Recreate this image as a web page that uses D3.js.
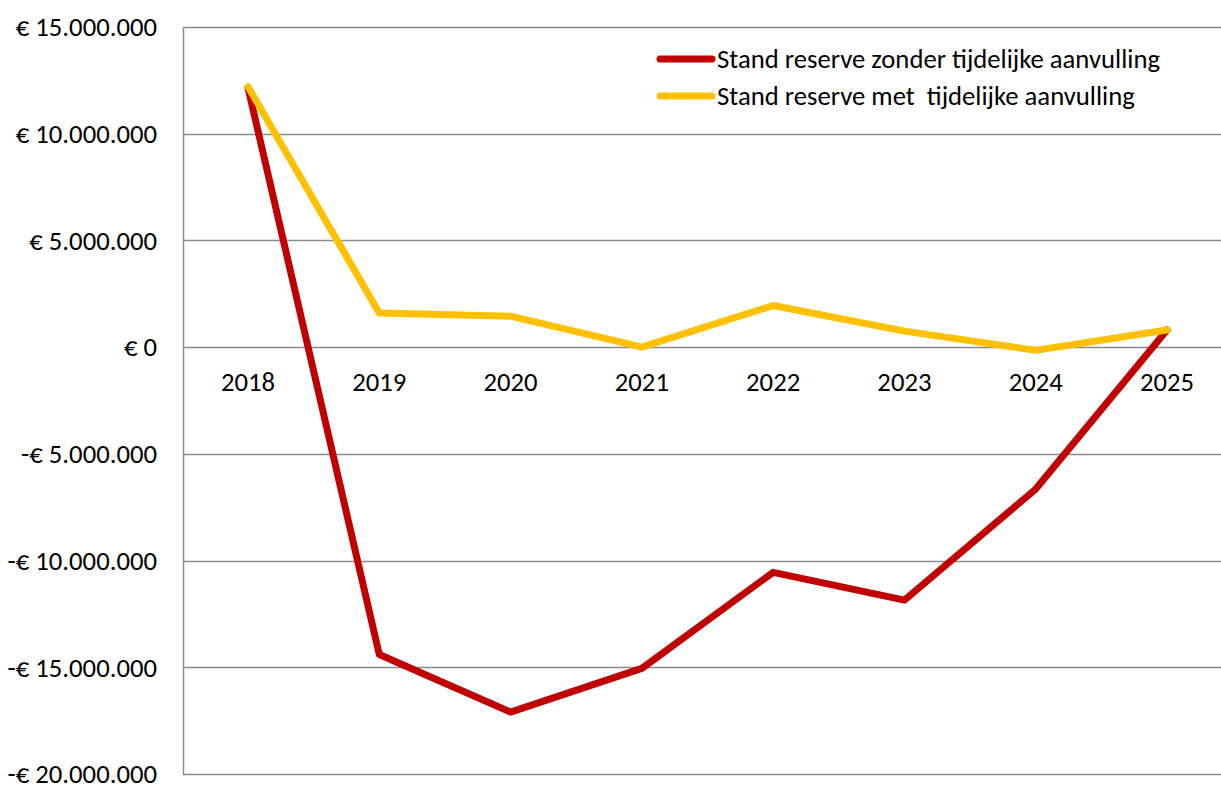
<!DOCTYPE html>
<html lang="nl">
<head>
	<meta charset="utf-8">
	<title>Stand reserve</title>
	<script src="https://cdn.jsdelivr.net/npm/d3@7"></script>
	<style>
		body { margin: 0; background: #fff; }
		svg text { font-family: Carlito, Lato, "Open Sans", sans-serif; fill: #000; }
	</style>
</head>
<body>
<script>
// Data
var years = ["2018", "2019", "2020", "2021", "2022", "2023", "2024", "2025"];
var zonder = [12150000, -14400000, -17100000, -15050000, -10550000, -11850000, -6650000, 800000];
var met = [12200000, 1600000, 1450000, 0, 1950000, 750000, -150000, 800000];
var yTicks = [-20000000, -15000000, -10000000, -5000000, 0, 5000000, 10000000, 15000000];
var seriesNames = ["Stand reserve zonder tijdelijke aanvulling", "Stand reserve met  tijdelijke aanvulling"];
var seriesColors = ["#C00000", "#FFC000"];

var width = 1221, height = 785;
var margin = {top: 27, left: 183, bottom: 11};
var fs = 26.7; // 20pt

var svg = d3.select("body").append("svg")
	.attr("width", width)
	.attr("height", height);

var x = d3.scalePoint()
	.domain(years)
	.range([248, 1167]);

var y = d3.scaleLinear()
	.domain([-20000000, 15000000])
	.range([height - margin.bottom, margin.top]);

function euro(v) {
	var s = d3.format(",")(Math.abs(v)).replace(/,/g, ".");
	return (v < 0 ? "-€ " : "€ ") + s;
}

// gridlines
svg.append("g")
	.selectAll("line")
	.data(yTicks)
	.enter().append("line")
	.attr("x1", margin.left)
	.attr("x2", width)
	.attr("y1", function(d) { return Math.round(y(d)) + 0.5; })
	.attr("y2", function(d) { return Math.round(y(d)) + 0.5; })
	.attr("stroke", "#8c8c8c")
	.attr("stroke-width", 1.5);

// vertical axis line
svg.append("line")
	.attr("x1", margin.left + 0.5).attr("x2", margin.left + 0.5)
	.attr("y1", y(15000000)).attr("y2", y(-20000000) + 0.5)
	.attr("stroke", "#8c8c8c")
	.attr("stroke-width", 1.5);

// y labels
svg.append("g")
	.selectAll("text")
	.data(yTicks)
	.enter().append("text")
	.attr("x", 157)
	.attr("y", function(d) { return y(d); })
	.attr("dy", "0.35em")
	.attr("text-anchor", "end")
	.attr("font-size", fs)
	.text(euro);

// category labels under zero line
svg.append("g")
	.selectAll("text")
	.data(years)
	.enter().append("text")
	.attr("x", function(d) { return x(d); })
	.attr("y", y(0) + 35)
	.attr("dy", "0.35em")
	.attr("text-anchor", "middle")
	.attr("font-size", fs)
	.text(function(d) { return d; });

var line = d3.line()
	.x(function(d, i) { return x(years[i]); })
	.y(function(d) { return y(d); });

[zonder, met].forEach(function(vals, i) {
	svg.append("path")
		.datum(vals)
		.attr("d", line)
		.attr("fill", "none")
		.attr("stroke", seriesColors[i])
		.attr("stroke-width", 7)
		.attr("stroke-linejoin", "round")
		.attr("stroke-linecap", "round");
});

// legend
var legend = svg.append("g")
	.selectAll("g")
	.data(seriesNames)
	.enter().append("g")
	.attr("transform", function(d, i) { return "translate(0," + (59 + i * 37) + ")"; });

legend.append("line")
	.attr("x1", 660).attr("x2", 712)
	.attr("stroke", function(d, i) { return seriesColors[i]; })
	.attr("stroke-width", 7)
	.attr("stroke-linecap", "round");

legend.append("text")
	.attr("x", 717)
	.attr("dy", "0.35em")
	.attr("font-size", fs)
	.attr("xml:space", "preserve")
	.style("white-space", "pre")
	.text(function(d) { return d; });
</script>
</body>
</html>
